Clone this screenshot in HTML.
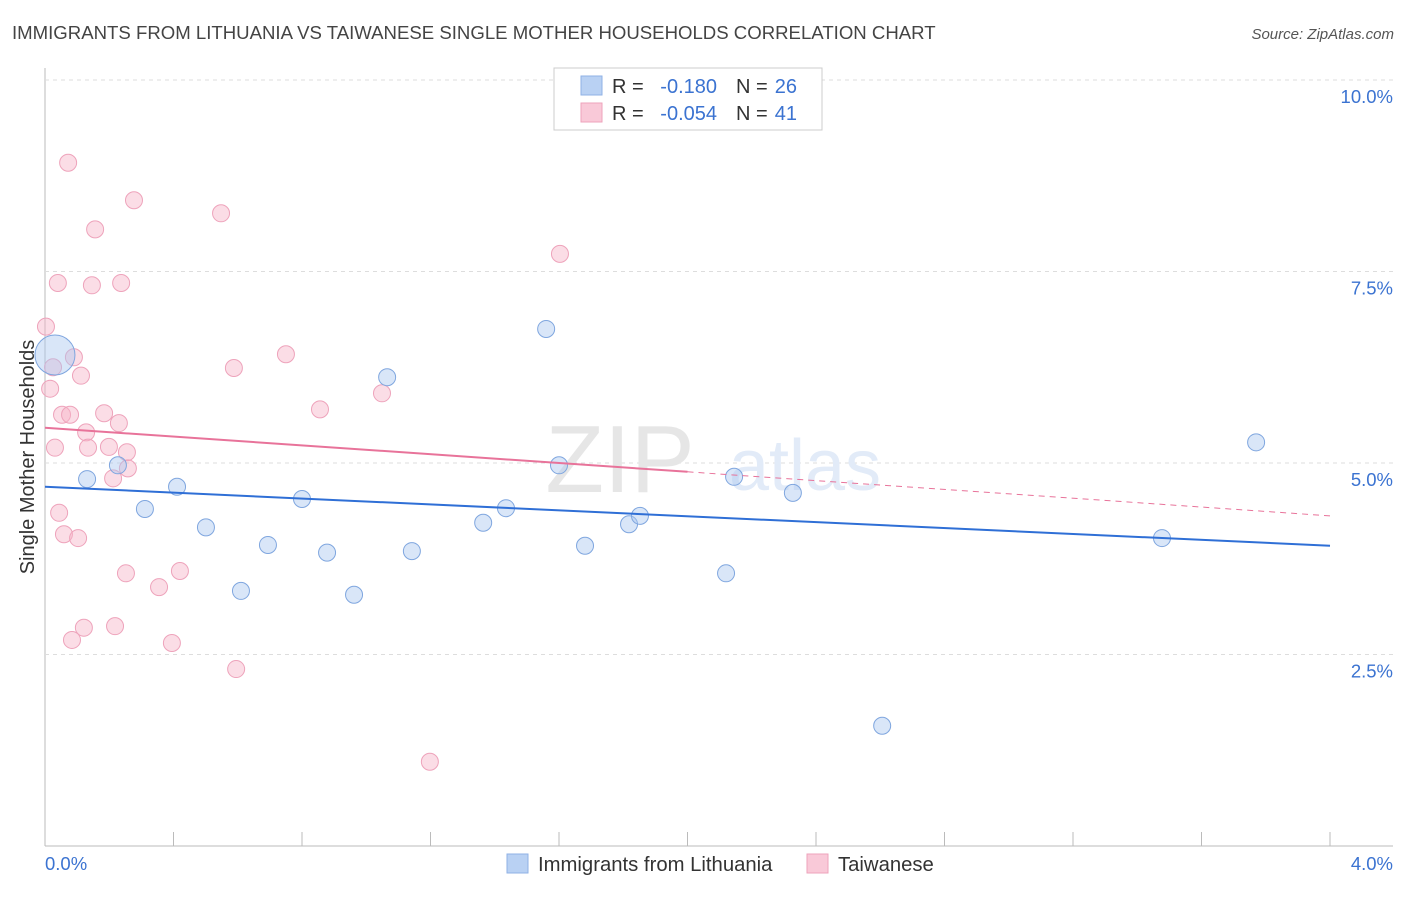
<!DOCTYPE html>
<html><head><meta charset="utf-8"><style>
body{margin:0;background:#fff;font-family:"Liberation Sans",sans-serif}
svg text{font-family:"Liberation Sans",sans-serif}
</style></head><body>
<svg id="chart" width="1406" height="892">
<text x="12" y="39" font-size="18.6" fill="#444">IMMIGRANTS FROM LITHUANIA VS TAIWANESE SINGLE MOTHER HOUSEHOLDS CORRELATION CHART</text>
<text x="1394" y="39" font-size="15" fill="#555" font-style="italic" text-anchor="end">Source: ZipAtlas.com</text>
<text x="34" y="457" font-size="20" fill="#333" text-anchor="middle" transform="rotate(-90 34 457)">Single Mother Households</text>
<g id="grid"></g>
<text x="620" y="492" font-size="96" fill="#e6e6e6" font-family="Liberation Serif" text-anchor="middle">ZIP</text>
<text x="805" y="490" font-size="72" fill="#e2ebf8" text-anchor="middle">atlas</text>
<g id="marks"></g>
<g>
<rect x="554" y="68" width="268" height="62" fill="#fff" stroke="#ccc"/>
<rect x="581" y="76" width="21" height="19" fill="#b9d1f3" stroke="#8fb1e6"/>
<rect x="581" y="103" width="21" height="19" fill="#f9c9d8" stroke="#eea3bb"/>
<text x="612" y="93" font-size="20" fill="#333">R =</text>
<text x="717" y="93" font-size="20" fill="#3b73d1" text-anchor="end">-0.180</text>
<text x="736" y="93" font-size="20" fill="#333">N =</text>
<text x="797" y="93" font-size="20" fill="#3b73d1" text-anchor="end">26</text>
<text x="612" y="120" font-size="20" fill="#333">R =</text>
<text x="717" y="120" font-size="20" fill="#3b73d1" text-anchor="end">-0.054</text>
<text x="736" y="120" font-size="20" fill="#333">N =</text>
<text x="797" y="120" font-size="20" fill="#3b73d1" text-anchor="end">41</text>
</g>
<g>
<rect x="507" y="854" width="21" height="19" fill="#b9d1f3" stroke="#8fb1e6"/>
<text x="538" y="871" font-size="20.3" fill="#333">Immigrants from Lithuania</text>
<rect x="807" y="854" width="21" height="19" fill="#f9c9d8" stroke="#eea3bb"/>
<text x="838" y="871" font-size="20.3" fill="#333">Taiwanese</text>
</g>
</svg>
<script>
const blueX=[0.031,0.131,0.227,0.311,0.411,0.501,0.610,0.694,0.800,0.878,0.962,1.065,1.142,1.364,1.435,1.560,1.600,1.681,1.818,1.852,2.120,2.145,2.328,2.606,3.477,3.770];
const blueY=[6.41,4.79,4.97,4.40,4.69,4.16,3.33,3.93,4.53,3.83,3.28,6.12,3.85,4.22,4.41,6.75,4.97,3.92,4.20,4.31,3.56,4.82,4.61,1.57,4.02,5.27];
const pinkX=[0.072,0.277,0.548,0.156,1.603,0.040,0.146,0.237,0.003,0.090,0.025,0.750,0.588,0.112,0.016,1.049,0.856,0.053,0.078,0.184,0.230,0.128,0.031,0.134,0.199,0.255,0.212,0.258,0.044,0.059,0.103,0.252,0.420,0.355,0.121,0.218,0.084,0.395,0.595,1.198];
const pinkY=[8.92,8.43,8.26,8.05,7.73,7.35,7.32,7.35,6.78,6.38,6.25,6.42,6.24,6.14,5.97,5.91,5.70,5.63,5.63,5.65,5.52,5.40,5.20,5.20,5.21,5.14,4.80,4.93,4.35,4.07,4.02,3.56,3.59,3.38,2.85,2.87,2.69,2.65,2.31,1.10];
const blueTrend=[4.69,3.92];
const pinkTrend=[5.46,4.31];
const pinkSolidEnd=2.0;
const yTicks=[2.5,5.0,7.5,10.0];
const yTickLabels=["2.5%","5.0%","7.5%","10.0%"];
const xTicks=[0,0.4,0.8,1.2,1.6,2.0,2.4,2.8,3.2,3.6,4.0];
const NS="http://www.w3.org/2000/svg";
const sx=v=>45+v/4*1285, sy=v=>846-v*76.6;
function mk(tag,at,parent){const e=document.createElementNS(NS,tag);for(const k in at)e.setAttribute(k,at[k]);parent.appendChild(e);return e;}
const grid=document.getElementById('grid'),marks=document.getElementById('marks');
let ax=mk('line',{x1:45,y1:68,x2:45,y2:846,stroke:'#bbb'},grid);


let bx=mk('line',{x1:45,y1:846,x2:1393,y2:846,stroke:'#bbb'},grid);


yTicks.forEach((v,i)=>{
 const g=mk('line',{x1:45,y1:sy(v),x2:1393,y2:sy(v),stroke:'#ddd','stroke-dasharray':'4,4'},grid);
 
 
 const t=mk('text',{x:1393,y:sy(v)+23,'font-size':18.5,fill:'#3b73d1','text-anchor':'end'},grid);
 t.textContent=yTickLabels[i];
 
 
});
xTicks.forEach(v=>{
 const l=mk('line',{x1:sx(v),y1:832,x2:sx(v),y2:846,stroke:'#bbb'},grid);
 
 
});
[["0.0%",45,'start'],["4.0%",1393,'end']].forEach(a=>{
 const t=mk('text',{x:a[1],y:870,'font-size':18.5,fill:'#3b73d1','text-anchor':a[2]},grid);
 t.textContent=a[0];
 
 
});
pinkX.forEach((x,i)=>{
 const c=mk('circle',{cx:sx(x),cy:sy(pinkY[i]),r:8.5,fill:'rgba(246,180,200,0.45)',stroke:'#eea3bb','stroke-width':1},marks);
 
 
});
blueX.forEach((x,i)=>{
 const c=mk('circle',{cx:sx(x),cy:sy(blueY[i]),r:i===0?20:8.5,fill:'rgba(170,200,240,0.45)',stroke:'#7fa6df','stroke-width':1},marks);
 
 
});
const bl=mk('line',{x1:sx(0),y1:sy(blueTrend[0]),x2:sx(4),y2:sy(blueTrend[1]),stroke:'#2f6fd6','stroke-width':2},marks);


const py=x=>pinkTrend[0]+(pinkTrend[1]-pinkTrend[0])*x/4;
const pl=mk('line',{x1:sx(0),y1:sy(py(0)),x2:sx(pinkSolidEnd),y2:sy(py(pinkSolidEnd)),stroke:'#e8739a','stroke-width':2},marks);


const pd=mk('line',{x1:sx(pinkSolidEnd),y1:sy(py(pinkSolidEnd)),x2:sx(4),y2:sy(py(4)),stroke:'#e8739a','stroke-width':1,'stroke-dasharray':'6,5'},marks);


</script>
</body></html>
